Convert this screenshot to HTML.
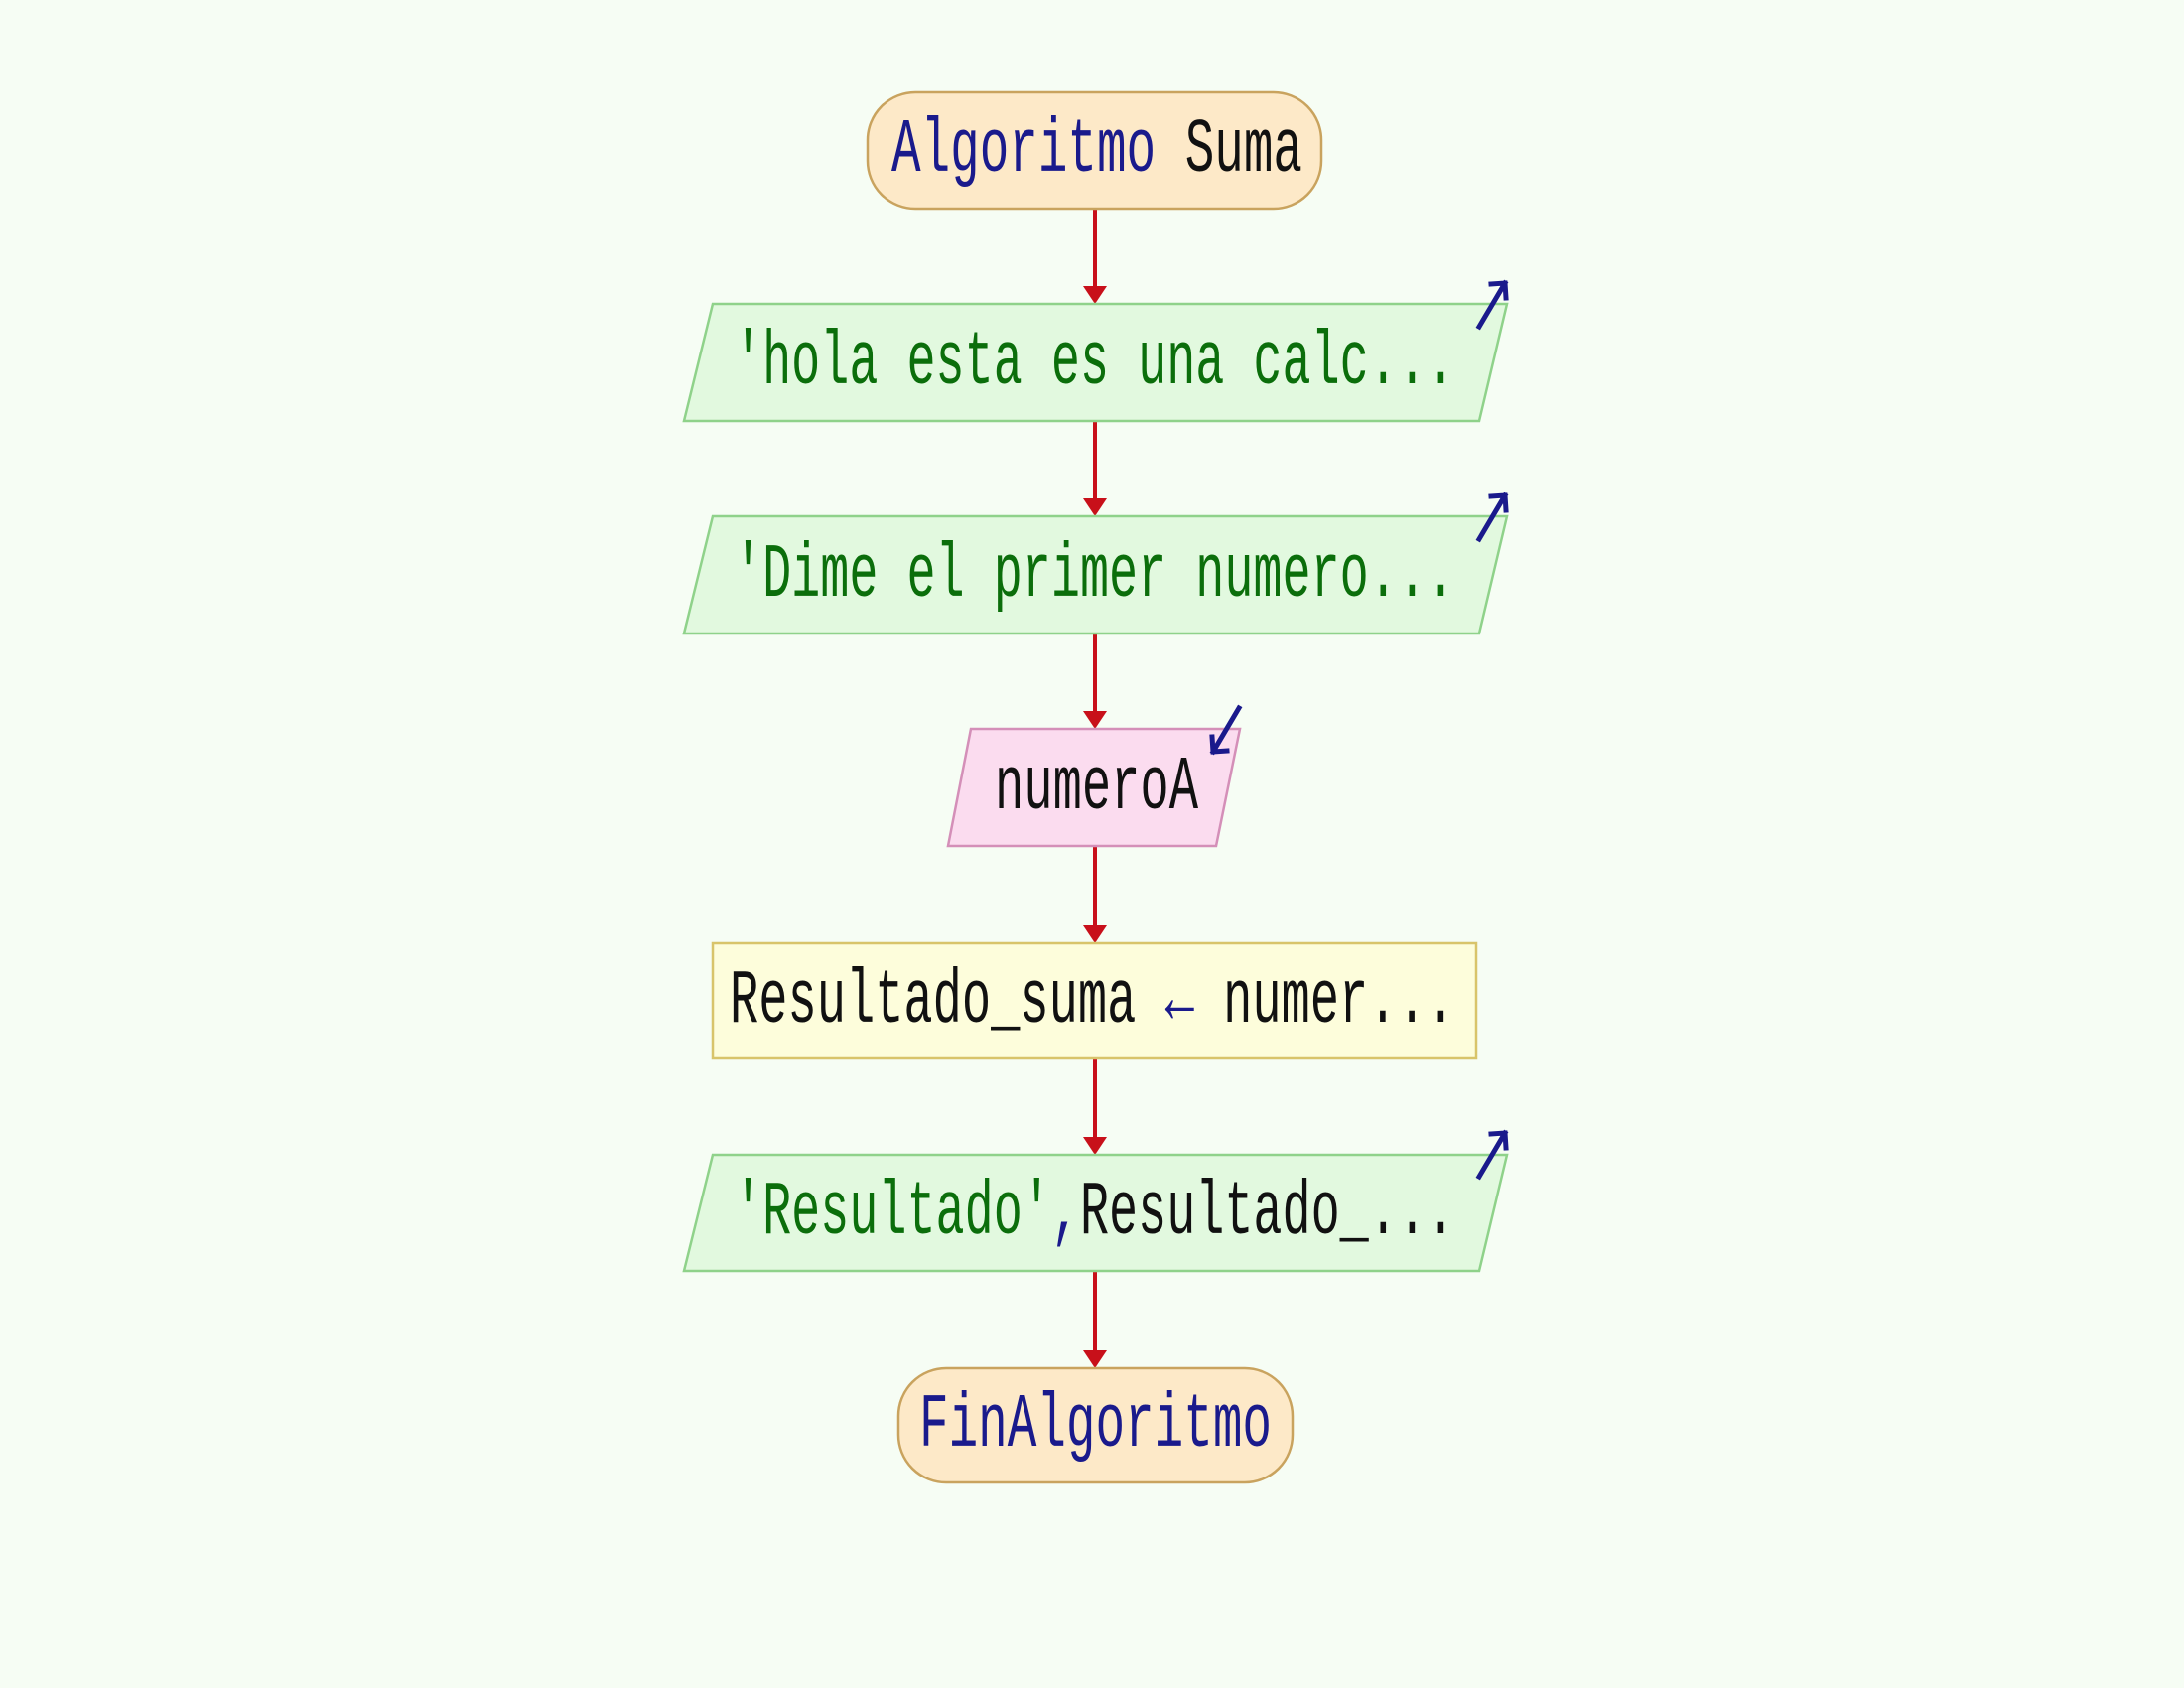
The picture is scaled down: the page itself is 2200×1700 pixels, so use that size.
<!DOCTYPE html>
<html><head><meta charset="utf-8"><style>
html,body{margin:0;padding:0;background:#f6fdf4;}
svg{display:block;}
text{font-family:"Liberation Mono","DejaVu Sans Mono",monospace;font-size:48px;}
</style></head><body>
<svg width="2200" height="1700" viewBox="0 0 2200 1700" xmlns="http://www.w3.org/2000/svg">
<rect width="2200" height="1700" fill="#f6fdf4"/>
<defs>
<marker id="ah" markerWidth="10" markerHeight="10" refX="5" refY="9" orient="auto" markerUnits="userSpaceOnUse"></marker>
</defs>
<!-- connectors -->
<g stroke="#c8101a" stroke-width="4" fill="none">
<line x1="1103" y1="210" x2="1103" y2="290"/>
<line x1="1103" y1="424" x2="1103" y2="504"/>
<line x1="1103" y1="638" x2="1103" y2="718"/>
<line x1="1103" y1="852" x2="1103" y2="934"/>
<line x1="1103" y1="1066" x2="1103" y2="1147"/>
<line x1="1103" y1="1280" x2="1103" y2="1362"/>
</g>
<g fill="#c8101a">
<polygon points="1091,288 1115,288 1103,306"/>
<polygon points="1091,502 1115,502 1103,520"/>
<polygon points="1091,716 1115,716 1103,734"/>
<polygon points="1091,932 1115,932 1103,950"/>
<polygon points="1091,1145 1115,1145 1103,1163"/>
<polygon points="1091,1360 1115,1360 1103,1378"/>
</g>
<!-- start -->
<rect x="874" y="93" width="457" height="117" rx="48" fill="#fde9c8" stroke="#c9a35e" stroke-width="2.5"/>
<text transform="translate(898,172) scale(1,1.6)" textLength="414" lengthAdjust="spacingAndGlyphs"><tspan fill="#1a1a8c">Algoritmo</tspan><tspan fill="#111"> Suma</tspan></text>
<!-- para1 -->
<polygon points="718,306 1518,306 1490,424 689,424" fill="#e2f9df" stroke="#8fd28a" stroke-width="2.5"/>
<text transform="translate(739,386) scale(1,1.6)" fill="#0b6e0b" textLength="727" lengthAdjust="spacingAndGlyphs">'hola esta es una calc...</text>
<!-- para2 -->
<polygon points="718,520 1518,520 1490,638 689,638" fill="#e2f9df" stroke="#8fd28a" stroke-width="2.5"/>
<text transform="translate(739,600) scale(1,1.6)" fill="#0b6e0b" textLength="727" lengthAdjust="spacingAndGlyphs">'Dime el primer numero...</text>
<!-- pink -->
<polygon points="978,734 1249,734 1225,852 955,852" fill="#fbdcef" stroke="#d48fb8" stroke-width="2.5"/>
<text transform="translate(1002,814) scale(1,1.6)" fill="#111" textLength="205" lengthAdjust="spacingAndGlyphs">numeroA</text>
<!-- rect -->
<rect x="718" y="950" width="769" height="116" fill="#fdfddb" stroke="#d8c46a" stroke-width="2.5"/>
<text transform="translate(735,1029) scale(1,1.6)" textLength="731" lengthAdjust="spacingAndGlyphs"><tspan fill="#111">Resultado_suma </tspan><tspan fill="#1a1a8c">←</tspan><tspan fill="#111"> numer...</tspan></text>
<!-- para4 -->
<polygon points="718,1163 1518,1163 1490,1280 689,1280" fill="#e2f9df" stroke="#8fd28a" stroke-width="2.5"/>
<text transform="translate(739,1242) scale(1,1.6)" textLength="727" lengthAdjust="spacingAndGlyphs"><tspan fill="#0b6e0b">'Resultado'</tspan><tspan fill="#1a1a8c">,</tspan><tspan fill="#111">Resultado_...</tspan></text>
<!-- end -->
<rect x="905" y="1378" width="397" height="115" rx="48" fill="#fde9c8" stroke="#c9a35e" stroke-width="2.5"/>
<text transform="translate(926,1456) scale(1,1.6)" fill="#1a1a8c" textLength="355" lengthAdjust="spacingAndGlyphs">FinAlgoritmo</text>
<!-- io icons -->
<g stroke="#1a1a8c" stroke-width="5" fill="none" stroke-linecap="square">
<path d="M1490,329 L1516,285 M1502,286 L1516,285 L1517,300"/>
<path d="M1490,543 L1516,499 M1502,500 L1516,499 L1517,514"/>
<path d="M1490,1185 L1516,1141 M1502,1142 L1516,1141 L1517,1156"/>
<path d="M1248,713 L1222,757 M1221,742 L1222,757 L1236,756"/>
</g>
</svg>
</body></html>
